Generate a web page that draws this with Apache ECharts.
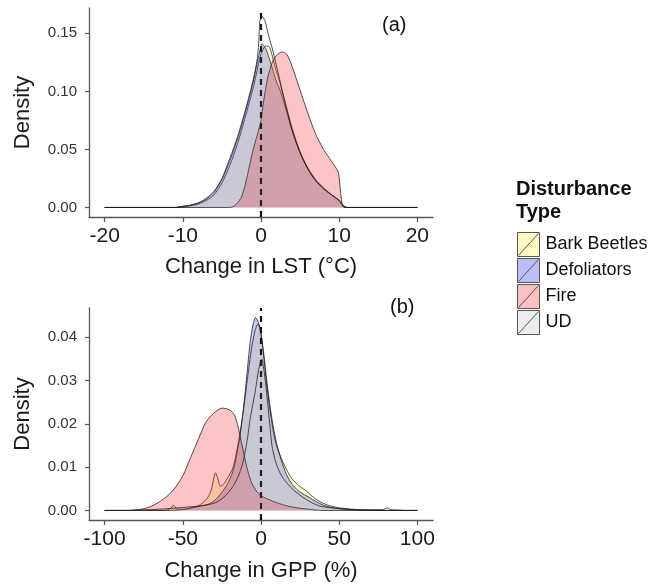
<!DOCTYPE html>
<html>
<head>
<meta charset="utf-8">
<script src="https://cdn.jsdelivr.net/npm/echarts@6/dist/echarts.min.js"></script>
<style>
html,body{margin:0;padding:0;background:#fff;}
#chart{width:651px;height:588px;}
</style>
</head>
<body>
<div id="chart"></div>
<script>
// ---------- Data (x value, density) ----------
const seriesNames = ['Bark Beetles', 'Defoliators', 'Fire', 'UD'];

// Panel (a): Change in LST (°C)
const lstBarkBeetles = [[-20,0],[-10.5,0],[-9.5,0.001],[-8,0.003],[-7,0.006],[-6,0.011],[-5,0.021],[-4,0.036],[-3,0.055],[-2,0.078],[-1,0.103],[-0.5,0.118],[0,0.132],[0.6,0.139],[1.1,0.138],[1.8,0.121],[2.4,0.108],[3,0.093],[4,0.068],[5,0.048],[6,0.034],[7,0.024],[8,0.017],[9,0.011],[10,0.006],[10.4,0.002],[11,0],[20,0]];
const lstDefoliators = [[-20,0],[-11,0],[-10,0.001],[-9,0.002],[-8,0.004],[-7,0.007],[-6,0.013],[-5,0.024],[-4,0.04],[-3,0.059],[-2,0.082],[-1,0.108],[-0.5,0.124],[0,0.139],[0.1,0.141],[0.4,0.139],[0.7,0.1355],[1.4,0.121],[2,0.108],[2.5,0.1],[3,0.089],[4,0.066],[5,0.047],[6,0.033],[7,0.023],[8,0.016],[9,0.011],[10,0.006],[10.4,0.002],[11,0],[20,0]];
const lstFire = [[-20,0],[-4,0],[-3.5,0.001],[-3,0.004],[-2.5,0.009],[-2,0.02],[-1.5,0.035],[-1,0.05],[-0.5,0.062],[0,0.075],[0.3,0.09],[0.9,0.113],[1.5,0.126],[2,0.131],[2.7,0.134],[3.3,0.132],[4,0.121],[5,0.101],[6,0.081],[7,0.063],[8,0.05],[9,0.04],[9.5,0.035],[9.9,0.03],[10.2,0.012],[10.4,0.002],[10.6,0],[20,0]];
const lstUD = [[-20,0],[-11,0],[-10,0.001],[-9,0.002],[-8,0.004],[-7,0.008],[-6,0.014],[-5,0.025],[-4,0.042],[-3,0.061],[-2,0.084],[-1,0.11],[-0.5,0.127],[-0.3,0.141],[-0.15,0.16],[0.1,0.165],[0.5,0.161],[0.9,0.15],[1.4,0.138],[1.8,0.127],[2.4,0.11],[3,0.092],[4,0.066],[5,0.047],[6,0.033],[7,0.023],[8,0.016],[9,0.011],[10,0.006],[10.5,0.002],[11,0],[20,0]];

// Panel (b): Change in GPP (%)
const gppBarkBeetles = [[-100,0],[-62,0],[-58,0.0004],[-56,0.0012],[-54,0.0004],[-50,0.0003],[-45,0.0006],[-40,0.0011],[-35,0.0025],[-32,0.0045],[-29,0.0087],[-27.5,0.0072],[-26,0.0056],[-24,0.006],[-22,0.0071],[-18,0.0098],[-14.5,0.0156],[-12,0.0212],[-10,0.0265],[-8,0.0322],[-6,0.0375],[-4,0.0412],[-2.5,0.0428],[-1.5,0.043],[0,0.0412],[2,0.0345],[4,0.028],[6,0.0225],[8,0.018],[10,0.0148],[14,0.0112],[17,0.009],[20,0.0072],[25,0.0055],[29,0.0045],[32,0.0035],[36,0.0024],[40,0.0016],[44,0.0011],[50,0.0006],[55,0.0004],[60,0.0002],[70,0],[100,0]];
const gppDefoliators = [[-100,0],[-60,0],[-50,0.0002],[-45,0.0005],[-40,0.0009],[-34,0.0014],[-30,0.0022],[-27,0.0033],[-24,0.0047],[-21,0.0064],[-18.5,0.0085],[-16.5,0.011],[-15,0.014],[-13.4,0.0172],[-11.3,0.0233],[-9.1,0.031],[-7,0.0387],[-5,0.043],[-3.5,0.0445],[-2,0.0437],[0,0.0405],[2,0.0355],[4,0.029],[6,0.0235],[8,0.019],[10,0.0155],[13,0.0115],[16.4,0.0082],[20,0.006],[24,0.0045],[27,0.0038],[31,0.003],[35,0.0021],[40,0.0012],[45,0.0007],[50,0.0004],[60,0.0001],[70,0],[100,0]];
const gppFire = [[-100,0],[-85,0],[-80,0.0001],[-75,0.0004],[-70,0.001],[-65,0.002],[-60,0.0033],[-55,0.0052],[-50,0.008],[-45,0.0122],[-40,0.0165],[-35,0.0205],[-30,0.0225],[-25,0.0236],[-20,0.0232],[-17,0.022],[-15,0.0198],[-13,0.0165],[-10,0.0115],[-8,0.0085],[-6,0.0064],[-3,0.0045],[0,0.0034],[5,0.0025],[10,0.0018],[15,0.0012],[20,0.0008],[25,0.0005],[30,0.0003],[35,0.0001],[40,0],[100,0]];
const gppUD = [[-100,0],[-85,0],[-80,0.0001],[-70,0.0002],[-60,0.0004],[-50,0.0007],[-40,0.001],[-33,0.0014],[-29,0.0018],[-25,0.0027],[-21,0.0041],[-17.5,0.0058],[-14.5,0.0079],[-12,0.0105],[-10.2,0.0134],[-8.5,0.017],[-7,0.021],[-5.5,0.024],[-3.8,0.0272],[-1.5,0.0325],[0.4,0.0349],[2,0.032],[3.6,0.0272],[5.7,0.0195],[7,0.015],[8.9,0.0118],[10,0.0105],[12,0.0088],[14,0.0075],[16.4,0.0064],[20,0.005],[25,0.0035],[29,0.0025],[33,0.0017],[37.7,0.001],[45,0.0006],[55,0.0003],[65,0.0002],[78,0.0002],[81,0.0006],[83,0.0002],[88,0.0001],[92,0],[100,0]];

// Tick labels
const lstTicks = [-20, -10, 0, 10, 20];
const gppTicks = [-100, -50, 0, 50, 100];
const lstDensityTicks = [0, 0.05, 0.10, 0.15];
const gppDensityTicks = [0, 0.01, 0.02, 0.03, 0.04];

// ---------- Styles ----------
const keyColors = ['#fffac2', '#bcbff5', '#fbc0c1', '#ededf0'];
const fillColors = ['rgba(255,240,0,0.18)', 'rgba(20,35,225,0.24)', 'rgba(240,40,45,0.27)', 'rgba(215,215,230,0.08)'];
const FONT = 'Liberation Sans, Arial, Helvetica, sans-serif';

function makeSeries(name, idx, data, panel) {
  return {
    type: 'line',
    name: name,
    xAxisIndex: panel,
    yAxisIndex: panel,
    data: data,
    showSymbol: false,
    symbol: 'none',
    smooth: 0.25,
    lineStyle: { color: '#1a1a1a', width: 0.9, opacity: 0.85 },
    areaStyle: { color: fillColors[idx], opacity: 1 },
    itemStyle: { color: keyColors[idx] },
    emphasis: { disabled: true },
    z: 2 + idx,
    silent: true
  };
}

const lstData = [lstBarkBeetles, lstDefoliators, lstFire, lstUD];
const gppData = [gppBarkBeetles, gppDefoliators, gppFire, gppUD];

const series = [];
seriesNames.forEach((n, i) => series.push(makeSeries(n, i, lstData[i], 0)));
seriesNames.forEach((n, i) => series.push(makeSeries(n, i, gppData[i], 1)));

// dashed zero lines
[0, 1].forEach(p => {
  series.push({
    type: 'line', name: 'zero' + p, xAxisIndex: p, yAxisIndex: p, data: [],
    silent: true, z: 10,
    markLine: {
      silent: true, symbol: ['none', 'none'], animation: false,
      label: { show: false },
      lineStyle: { color: '#111', width: 2.2, type: [6, 5], opacity: 1 },
      emphasis: { disabled: true },
      data: [{ xAxis: 0 }]
    }
  });
});

function xAxisCfg(p, min, max, ticks, name, gap) {
  return {
    type: 'value', gridIndex: p, min: min, max: max,
    name: name, nameLocation: 'middle', nameGap: gap,
    nameTextStyle: { fontSize: 22, color: '#1a1a1a', fontFamily: FONT },
    axisLine: { show: true, onZero: false, lineStyle: { color: '#555', width: 1.3 } },
    axisTick: { show: true, length: 5, customValues: ticks, lineStyle: { color: '#555', width: 1.2 } },
    axisLabel: { customValues: ticks, fontSize: 21, color: '#1a1a1a', margin: 9, fontFamily: FONT },
    splitLine: { show: false }
  };
}
function yAxisCfg(p, min, max, ticks, dec) {
  return {
    type: 'value', gridIndex: p, min: min, max: max,
    name: 'Density', nameLocation: 'middle', nameGap: 55, nameRotate: 90,
    nameTextStyle: { fontSize: 22, color: '#1a1a1a', fontFamily: FONT },
    axisLine: { show: true, onZero: false, lineStyle: { color: '#555', width: 1.3 } },
    axisTick: { show: true, length: 4, customValues: ticks, lineStyle: { color: '#555', width: 1.2 } },
    axisLabel: { customValues: ticks, fontSize: 15, color: '#333', margin: 12, fontFamily: FONT,
      formatter: v => v.toFixed(dec) },
    splitLine: { show: false }
  };
}

const option = {
  animation: false,
  backgroundColor: '#ffffff',
  textStyle: { fontFamily: FONT },
  title: [
    { text: 'Disturbance\nType', left: 511, top: 173,
      textStyle: { fontSize: 20, fontWeight: 'bold', color: '#111', lineHeight: 23, fontFamily: FONT } },
    { text: '(a)', left: 377, top: 10,
      textStyle: { fontSize: 20, fontWeight: 'normal', color: '#111', fontFamily: FONT } },
    { text: '(b)', left: 385, top: 292,
      textStyle: { fontSize: 20, fontWeight: 'normal', color: '#111', fontFamily: FONT } }
  ],
  legend: {
    data: seriesNames,
    orient: 'vertical',
    left: 512, top: 227,
    itemWidth: 22, itemHeight: 24, itemGap: 1,
    icon: 'path://M0,0L22,0L22,24L0,24Z M1,23L21,1',
    itemStyle: { borderColor: '#555', borderWidth: 1 },
    textStyle: { fontSize: 18, color: '#111', fontFamily: FONT, padding: [0, 0, 0, 1] },
    selectedMode: false
  },
  grid: [
    { left: 89, top: 8, width: 344, height: 209 },
    { left: 89, top: 308, width: 344, height: 212 }
  ],
  xAxis: [
    xAxisCfg(0, -22, 22, lstTicks, 'Change in LST (°C)', 39),
    xAxisCfg(1, -110, 110, gppTicks, 'Change in GPP (%)', 40)
  ],
  yAxis: [
    yAxisCfg(0, -0.0082, 0.1718, lstDensityTicks, 2),
    yAxisCfg(1, -0.0022, 0.0467, gppDensityTicks, 2)
  ],
  series: series
};

const chart = echarts.init(document.getElementById('chart'), null, { renderer: 'canvas' });
chart.setOption(option);
</script>
</body>
</html>
